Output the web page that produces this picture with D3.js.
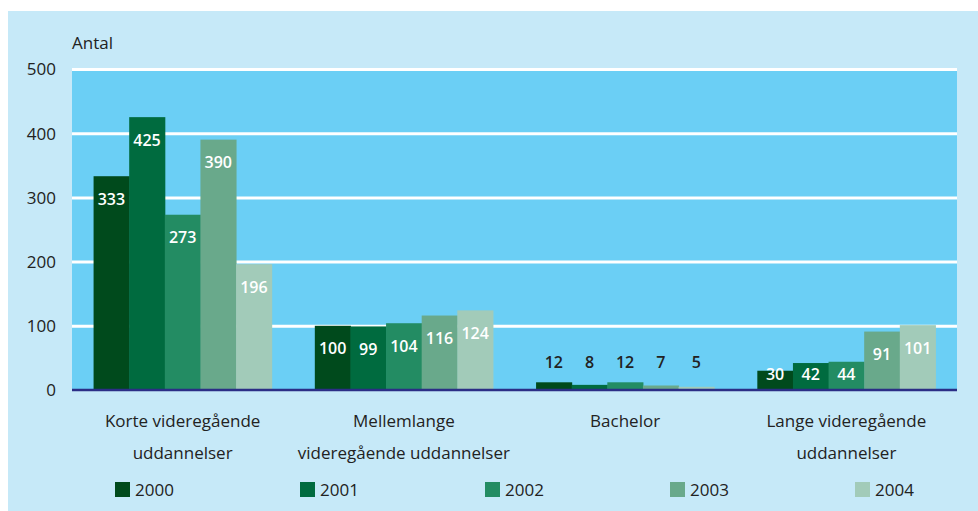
<!DOCTYPE html>
<html><head><meta charset="utf-8">
<script src="https://cdn.jsdelivr.net/npm/d3@7"></script>
<style>
html,body{margin:0;padding:0;background:#fff;}
svg{display:block;}
text{font-family:"Open Sans","Noto Sans",sans-serif;}
</style></head>
<body>
<svg id="chart" width="978" height="511"></svg>
<script>
const categories = [["Korte videregående","uddannelser"],["Mellemlange","videregående uddannelser"],["Bachelor"],["Lange videregående","uddannelser"]];
const years = ["2000","2001","2002","2003","2004"];
const v2000 = [333,100,12,30];
const v2001 = [425,99,8,42];
const v2002 = [273,104,12,44];
const v2003 = [390,116,7,91];
const v2004 = [196,124,5,101];
const yTicks = [0,100,200,300,400,500];
const colors = ["#004a1c","#006b3f","#238c63","#69a98b","#a2cbb9"];
const series = [v2000,v2001,v2002,v2003,v2004];

const svg = d3.select("#chart");
svg.append("rect").attr("x",8).attr("y",11).attr("width",970).attr("height",500).attr("fill","#c6e9f8");

const L=72,R=957,T=69,B=390;
const x0 = d3.scaleBand().domain(d3.range(categories.length)).range([L,R]).paddingInner(0.195).paddingOuter(0.0975);
const x1 = d3.scaleBand().domain(d3.range(years.length)).range([0,x0.bandwidth()]);
const y = d3.scaleLinear().domain([0,500]).range([B,T]);

svg.append("rect").attr("x",L).attr("y",T).attr("width",R-L).attr("height",B-T).attr("fill","#6bcff5");

const yAxis = d3.axisLeft(y).tickValues(yTicks).tickSize(-(R-L)).tickPadding(16);
const ga = svg.append("g").attr("transform",`translate(${L},0)`).call(yAxis);
ga.select(".domain").remove();
ga.selectAll(".tick line").attr("stroke","#fff").attr("stroke-width",3).filter(d=>d===0).remove();
ga.selectAll(".tick text").attr("fill","#222").style("font-size","17px").attr("x",-16).attr("dy","0.35em");

svg.append("text").attr("x",L).attr("y",49).attr("fill","#222").style("font-size","17px").text("Antal");

const rows=[];
categories.forEach((c,i)=>series.forEach((s,j)=>rows.push({i,j,v:s[i]})));

svg.append("g").selectAll("rect").data(rows).join("rect")
  .attr("x",d=>x0(d.i)+x1(d.j)).attr("width",x1.bandwidth()+0.5)
  .attr("y",d=>y(d.v)).attr("height",d=>y(0)-y(d.v)).attr("fill",d=>colors[d.j]);

svg.append("line").attr("x1",L).attr("x2",R).attr("y1",B).attr("y2",B).attr("stroke","#2b2e86").attr("stroke-width",2.5);

svg.append("g").selectAll("text").data(rows).join("text")
  .attr("x",d=>x0(d.i)+x1(d.j)+x1.bandwidth()/2)
  .attr("y",d=> d.v<20 ? y(0)-28 : Math.min(y(d.v)+23, y(0)-16))
  .attr("dy","0.35em")
  .attr("text-anchor","middle")
  .attr("fill",d=>d.v<20?"#222":"#fff")
  .style("font-size","16px").style("font-weight","600")
  .text(d=>d.v);

const cl = svg.append("g");
categories.forEach((c,i)=>{
  c.forEach((line,k)=>{
    cl.append("text").attr("x",x0(i)+x0.bandwidth()/2).attr("y",421+k*32).attr("dy","0.35em")
      .attr("text-anchor","middle").attr("fill","#222").style("font-size","17px").text(line);
  });
});

const lg = svg.append("g");
years.forEach((yr,j)=>{
  const lx = 115 + j*185;
  lg.append("rect").attr("x",lx).attr("y",482).attr("width",15).attr("height",15).attr("fill",colors[j]);
  lg.append("text").attr("x",lx+20).attr("y",490).attr("dy","0.35em").attr("fill","#222").style("font-size","17px").text(yr);
});
</script>
</body></html>
